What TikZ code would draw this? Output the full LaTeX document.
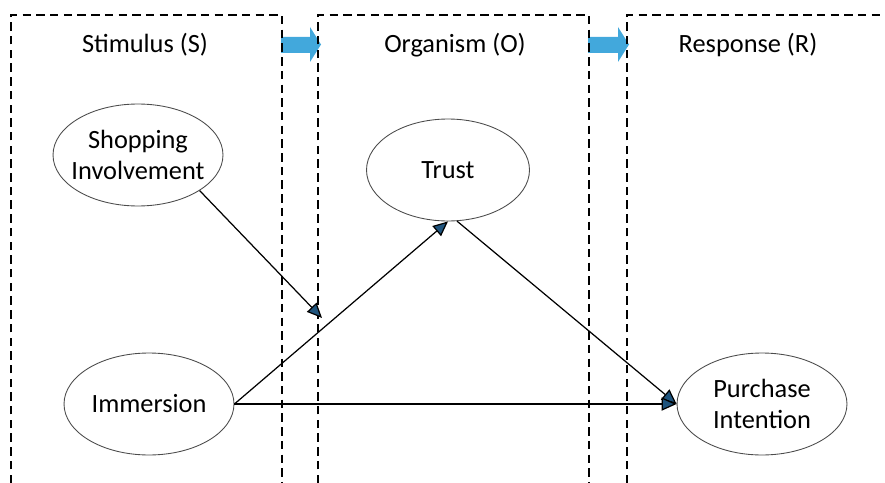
\documentclass[tikz,border=0pt]{standalone}
\usepackage{fontspec}
\setmainfont{Carlito}
\usetikzlibrary{arrows.meta,shapes.geometric}

\definecolor{tipblue}{RGB}{31,84,125}
\definecolor{blockblue}{RGB}{66,168,220}

\begin{document}
\begin{tikzpicture}[
    x=0.02cm, y=-0.02cm,
    every node/.style={font=\fontsize{15}{18}\selectfont},
    construct/.style={draw=black!70, line width=0.5pt, ellipse, minimum width=3.4cm, minimum height=2.04cm, inner sep=0pt},
    stage/.style={draw, line width=0.95pt, dash pattern=on 4.8pt off 3pt},
    effect/.style={line width=0.7pt, -{Triangle[length=8.5pt, width=7.5pt, fill=tipblue]}},
    blockarrow/.style={fill=blockblue}
]
\useasboundingbox (0,0) rectangle (885,483);

% S -> O -> R block arrows
\fill[blockarrow] (281,37) -- (310,37) -- (310,27) -- (321,44.5) -- (310,62) -- (310,53) -- (281,53) -- cycle;
\fill[blockarrow] (588,37) -- (618,37) -- (618,27) -- (629,44.5) -- (618,62) -- (618,53) -- (588,53) -- cycle;

% stage frames
\draw[stage] (11,483) -- (11,15) -- (282,15) -- (282,483);
\draw[stage] (318,483) -- (318,15) -- (589,15) -- (589,483);
\draw[stage] (627,483) -- (627,15) -- (885,15);

\node (stim) at (145,45) {Stimulus (S)};
\node (org) at (455,45) {Organism (O)};
\node (resp) at (748,45) {Response (R)};

% constructs
\node[construct, label={[align=center]center:Shopping\\Involvement}] (si) at (138,155) {};
\node[construct, minimum width=3.26cm, label=center:Trust] (trust) at (448,170) {};
\node[construct, label=center:Immersion] (imm) at (149,404) {};
\node[construct, label={[align=center]center:Purchase\\Intention}] (pi) at (762,404) {};

\coordinate (mod) at (322,318);

\draw[effect] (si.-30) -- (mod);
\draw[effect] (imm.east) -- (trust.south);
\draw[effect] (trust.-80) -- (pi.west);
\draw[effect] (imm.east) -- (pi.west);
\end{tikzpicture}
\end{document}
